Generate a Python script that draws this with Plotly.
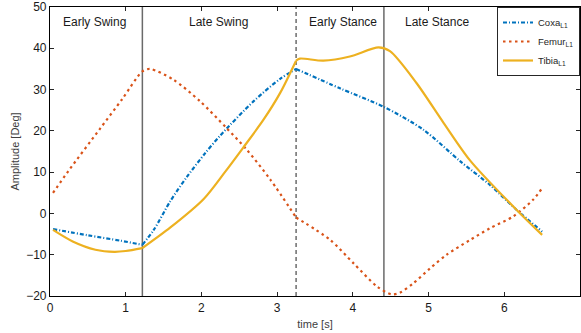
import plotly.graph_objects as go

# ---- data ----
coxa_t = [0.04, 0.5, 0.93, 1.22, 1.37, 1.59, 1.81, 2.05, 2.25, 2.69, 3.04, 3.25,
          3.83, 4.41, 4.93, 5.42, 5.81, 6.16, 6.5]
coxa_v = [-3.8, -5.3, -6.6, -7.6, -4.0, 3.0, 8.9, 14.6, 18.9, 27.2, 32.6, 35.0,
          30.3, 25.8, 20.3, 12.6, 6.9, 0.9, -4.4]

femur_t = [0.04, 0.24, 0.66, 0.95, 1.22, 1.32, 1.63, 1.98, 2.33, 2.60, 2.91, 3.25,
           3.70, 4.01, 4.32, 4.51, 4.62, 4.80, 5.02, 5.24, 5.55, 5.81, 6.12, 6.38, 6.5]
femur_v = [5.0, 10.2, 20.5, 27.6, 34.4, 35.0, 32.4, 27.2, 20.7, 15.4, 8.2, -1.0,
           -6.4, -12.1, -17.7, -19.6, -19.2, -16.9, -13.3, -10.0, -6.4, -3.6, -0.7, 3.3, 6.1]

tibia_t = [0.04, 0.3, 0.6, 0.85, 1.0, 1.22, 1.59, 2.03, 2.31, 2.55, 2.82, 3.04, 3.25,
           3.30, 3.61, 3.96, 4.34, 4.49, 4.84, 5.20, 5.55, 6.16, 6.5]
tibia_v = [-4.0, -6.8, -8.8, -9.3, -9.1, -8.4, -3.4, 3.5, 10.0, 15.9, 22.7, 29.2, 37.0,
           37.5, 37.0, 38.0, 40.2, 39.3, 31.6, 21.9, 12.8, 0.9, -5.2]

phase_bounds = [1.22, 3.25, 4.41]
phase_names = ["Early Swing", "Late Swing", "Early Stance", "Late Stance"]
phase_label_t = [0.59, 2.23, 3.87, 5.11]

series = [
    ("Coxa<sub>L1</sub>", coxa_t, coxa_v, "#0072BD", "4px,2px,1px,2px", [1.22, 3.25]),
    ("Femur<sub>L1</sub>", femur_t, femur_v, "#D95319", "2.5px,3.5px", [3.25]),
    ("Tibia<sub>L1</sub>", tibia_t, tibia_v, "#EDB120", "solid", [1.22, 3.25]),
]


def split(t, v, breaks):
    segs, cur_t, cur_v = [], [], []
    for ti, vi in zip(t, v):
        cur_t.append(ti)
        cur_v.append(vi)
        if ti in breaks:
            segs.append((cur_t, cur_v))
            cur_t, cur_v = [ti], [vi]
    if len(cur_t) > 1:
        segs.append((cur_t, cur_v))
    return segs


fig = go.Figure()
for name, t, v, col, dash, brk in series:
    for i, (st, sv) in enumerate(split(t, v, brk)):
        fig.add_trace(go.Scatter(
            x=st, y=sv, mode="lines", name=name, legendgroup=name,
            showlegend=(i == 0),
            line=dict(color=col, dash=dash, width=2.2, shape="spline", smoothing=0.8),
        ))

# phase boundaries
for b, style in zip(phase_bounds, ["solid", "dash", "solid"]):
    fig.add_shape(type="line", x0=b, x1=b, y0=-20, y1=50, xref="x", yref="y",
                  line=dict(color="#222222" if style == "dash" else "#6a6a6a",
                            width=1.0 if style == "dash" else 1.5,
                            dash="4px,3px" if style == "dash" else "solid"),
                  layer="below")

for name, tx in zip(phase_names, phase_label_t):
    fig.add_annotation(x=tx, y=46.3, text=name, showarrow=False,
                       font=dict(size=12, color="#1a1a1a", family="Liberation Sans, Arial"))

fig.update_layout(
    width=581, height=333,
    margin=dict(l=50, r=1, t=7, b=37),
    plot_bgcolor="white", paper_bgcolor="white",
    font=dict(family="Liberation Sans, Arial", size=12, color="#262626"),
    showlegend=True,
    legend=dict(x=1, y=1, xanchor="right", yanchor="top",
                bordercolor="#262626", borderwidth=1, bgcolor="white",
                font=dict(size=9.5, color="#262626"), itemwidth=30,
                tracegroupgap=0),
    xaxis=dict(range=[0, 7], dtick=1, showgrid=False, zeroline=False,
               showline=True, linecolor="black", linewidth=1.2, mirror="ticks",
               ticks="inside", ticklen=4, tickcolor="#262626",
               title=dict(text="time [s]", font=dict(size=11, color="#404040"), standoff=6),
               tickfont=dict(size=12, color="#1a1a1a")),
    yaxis=dict(range=[-20, 50], dtick=10, showgrid=False, zeroline=False,
               showline=True, linecolor="black", linewidth=1.2, mirror="ticks",
               ticks="inside", ticklen=4, tickcolor="#262626",
               title=dict(text="Amplitude [Deg]", font=dict(size=11, color="#404040"), standoff=4),
               tickfont=dict(size=12, color="#1a1a1a")),
)

fig.write_html("out.html", config={"displayModeBar": False},
               post_script="document.body.style.margin='0';document.body.style.overflow='hidden';")
